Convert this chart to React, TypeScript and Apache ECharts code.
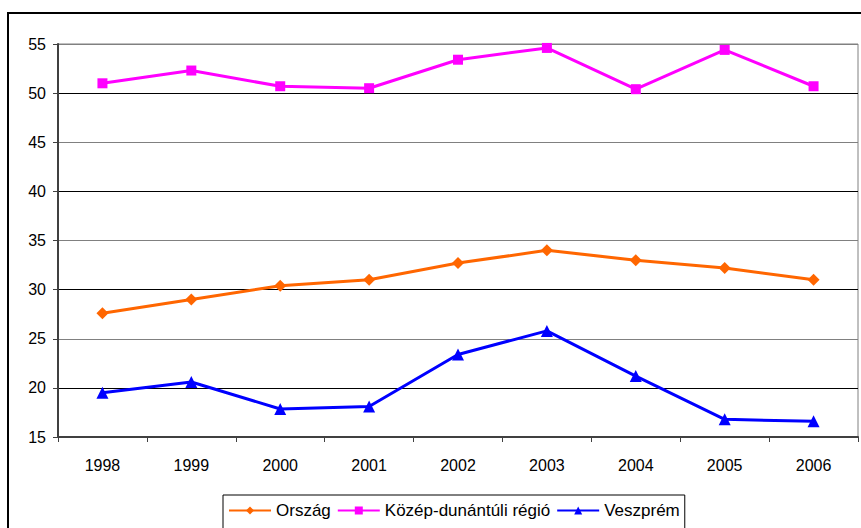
import React, { useEffect, useRef } from "react";
import * as echarts from "echarts";

const years = ["1998", "1999", "2000", "2001", "2002", "2003", "2004", "2005", "2006"];
const orszag = [27.6, 29.0, 30.4, 31.0, 32.7, 34.0, 33.0, 32.2, 31.0];
const kozepDunantuli = [51.0, 52.3, 50.7, 50.5, 53.4, 54.6, 50.4, 54.4, 50.7];
const veszprem = [19.5, 20.6, 17.85, 18.1, 23.4, 25.8, 21.2, 16.8, 16.6];
const seriesNames = ["Ország", "Közép-dunántúli régió", "Veszprém"];

const FONT = "'Liberation Sans', Arial, sans-serif";

export default function App() {
  const ref = useRef<HTMLDivElement>(null);
  useEffect(() => {
    if (!ref.current) return;
    const chart = echarts.init(ref.current, null, { renderer: "svg" });
    chart.setOption({
      animation: false,
      backgroundColor: "#ffffff",
      textStyle: { fontFamily: FONT },
      graphic: [
        {
          type: "rect",
          shape: { x: 8, y: 13, width: 870, height: 540 },
          style: { fill: "none", stroke: "#000", lineWidth: 2 },
          z: 0,
        },
      ],
      grid: {
        left: 58,
        top: 44,
        right: 3,
        bottom: 91,
        show: true,
        borderColor: "#808080",
        borderWidth: 1,
        backgroundColor: "transparent",
      },
      legend: {
        left: 223,
        top: 495,
        width: 480,
        itemWidth: 42,
        itemHeight: 10,
        itemGap: 6,
        padding: [7, 5, 12, 5],
        borderColor: "#000",
        borderWidth: 1,
        backgroundColor: "#fff",
        textStyle: { fontSize: 17, color: "#000", fontFamily: FONT },
        data: seriesNames,
      },
      xAxis: {
        type: "category",
        data: years,
        boundaryGap: true,
        axisLine: { lineStyle: { color: "#404040", width: 2 } },
        axisTick: { show: true, length: 5, lineStyle: { color: "#404040", width: 1 } },
        axisLabel: { fontSize: 16, color: "#000", margin: 20, fontFamily: FONT },
        splitLine: { show: false },
      },
      yAxis: {
        type: "value",
        min: 15,
        max: 55,
        interval: 5,
        axisLine: { show: true, lineStyle: { color: "#404040", width: 2 } },
        axisTick: { show: true, length: 5, lineStyle: { color: "#404040", width: 1 } },
        axisLabel: { fontSize: 16, color: "#000", margin: 12, fontFamily: FONT },
        splitLine: { show: true, lineStyle: { color: ["#808080", "#000000"], width: 1 } },
      },
      series: [
        {
          name: seriesNames[0],
          type: "line",
          data: orszag,
          symbol: "diamond",
          symbolSize: 12,
          itemStyle: { color: "#FF6600" },
          lineStyle: { color: "#FF6600", width: 3 },
        },
        {
          name: seriesNames[1],
          type: "line",
          data: kozepDunantuli,
          symbol: "rect",
          symbolSize: 10,
          itemStyle: { color: "#FF00FF" },
          lineStyle: { color: "#FF00FF", width: 3 },
        },
        {
          name: seriesNames[2],
          type: "line",
          data: veszprem,
          symbol: "triangle",
          symbolSize: 12,
          itemStyle: { color: "#0000FF" },
          lineStyle: { color: "#0000FF", width: 3 },
        },
      ],
    });
    return () => chart.dispose();
  }, []);
  return (
    <div
      ref={ref}
      style={{ position: "absolute", left: 0, top: 0, width: 861, height: 528 }}
    />
  );
}
